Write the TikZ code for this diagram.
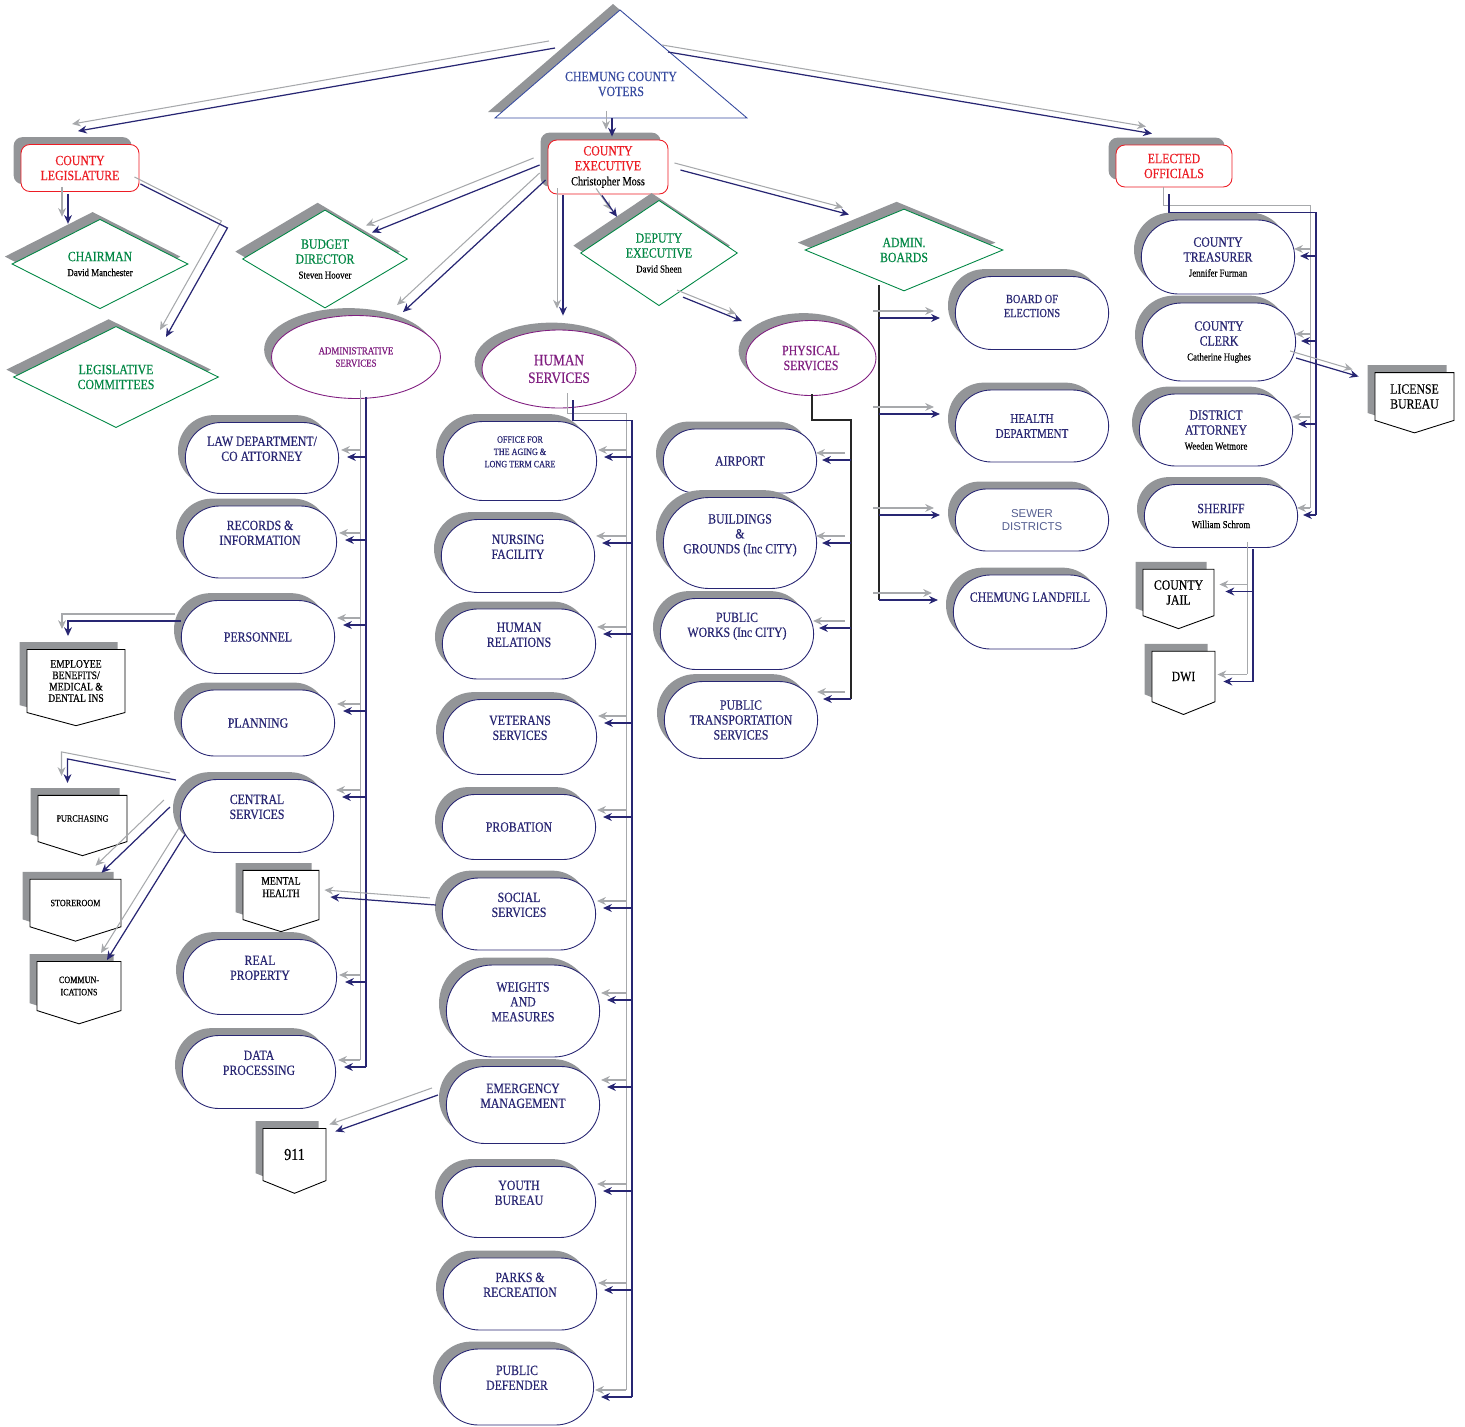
\documentclass[tikz,border=0pt]{standalone}
\usepackage{fontspec}
\setmainfont{Liberation Serif}[FakeStretch=0.84, FakeBold=0.4]
\newfontfamily\sewerfont{Liberation Sans}
\usetikzlibrary{shapes.geometric,shapes.misc,shapes.symbols,shadows,calc,arrows.meta}

\definecolor{onavy}{RGB}{40,38,115}
\definecolor{ored}{RGB}{237,28,36}
\definecolor{ogreen}{RGB}{0,135,68}
\definecolor{opurple}{RGB}{128,30,128}
\definecolor{oblue}{RGB}{55,75,160}
\definecolor{shadegray}{RGB}{147,149,152}
\definecolor{linegray}{RGB}{167,169,172}
\definecolor{sewerblue}{RGB}{85,95,145}

% font size helper and person names
\newcommand{\fsz}[2]{\fontsize{#1}{#2}\selectfont}
\newcommand{\who}[1]{{\color{black}\fsz{6}{6.5}#1}}
% every link is drawn twice: grey copy up-left, navy on top
\newcommand{\twin}[2][]{%
  \draw[greyline,#1] #2;
  \draw[navyline,#1] #2;}

\begin{document}
\begin{tikzpicture}[x=0.02cm, y=-0.02cm,
  dropshade/.style={copy shadow={shadow xshift=-4.2pt, shadow yshift=4.2pt, fill=shadegray, draw=none}},
  topbox/.style={dropshade, rectangle, rounded corners=5pt, draw=ored, fill=white, text=ored,
    align=center, line width=0.5pt, font=\fsz{8}{8.5}, minimum width=2.36cm, minimum height=0.94cm},
  lead/.style={dropshade, diamond, draw=ogreen, fill=white, text=ogreen, align=center,
    inner sep=0pt, line width=0.5pt, font=\fsz{8}{8.5}},
  division/.style={dropshade, ellipse, draw=opurple, fill=white, text=opurple, align=center,
    line width=0.5pt, font=\fsz{8}{8.5}},
  dept/.style={dropshade, rounded rectangle, draw=onavy, fill=white, text=onavy, align=center,
    line width=0.5pt, font=\fsz{8}{8.5}, minimum width=3.3cm, minimum height=1.46cm},
  upper/.style={text depth=10.5pt},
  office/.style={dropshade, signal, signal to=south, signal pointer angle=145, draw=black,
    fill=white, align=center, line width=0.5pt, inner sep=1pt, font=\fsz{8}{8.5}},
  greyline/.style={draw=linegray, line width=0.6pt, -{Stealth[length=5pt,width=4.5pt]},
    transform canvas={shift={(-3.4pt,4pt)}}},
  navyline/.style={draw=onavy, line width=0.7pt, -{Stealth[length=5pt,width=4.5pt]}},
  trunkline/.style={draw=black!85, line width=0.7pt}]
\useasboundingbox (0,0) rectangle (1465,1427);

% voters
\fill[shadegray] (613,4) -- (488,112) -- (740,112) -- cycle;
\draw[oblue, fill=white, line width=0.5pt] (620,10) -- (495,118) -- (747,118) -- cycle;
\node[text=oblue, align=center, font=\fsz{8}{8.5}] (voters) at (621,84) {CHEMUNG COUNTY\\VOTERS};
\coordinate (vL) at (555,48);
\coordinate (vR) at (668,52);
\coordinate (vB) at (612,118);

% top level
\node[topbox] (leg) at (80,168) {COUNTY\\LEGISLATURE};
\node[topbox, minimum width=2.4cm, minimum height=1.08cm] (exec) at (608,167)
  {COUNTY\\EXECUTIVE\\{\color{black}\fsz{7}{7.5}Christopher Moss}};
\node[topbox, minimum width=2.32cm, minimum height=0.84cm] (elected) at (1174,166) {ELECTED\\OFFICIALS};

% diamonds
\node[lead, minimum width=3.52cm, minimum height=1.66cm] (chair) at (100,264) {CHAIRMAN\\\who{David Manchester}};
\node[lead, minimum width=4.1cm, minimum height=2cm] (lcom) at (116,377) {LEGISLATIVE\\COMMITTEES};
\node[lead, minimum width=3.3cm, minimum height=1.88cm] (budget) at (325,259) {BUDGET\\DIRECTOR\\\who{Steven Hoover}};
\node[lead, minimum width=3.14cm, minimum height=1.92cm] (dep) at (659,253) {DEPUTY\\EXECUTIVE\\\who{David Sheen}};
\node[lead, minimum width=3.96cm, minimum height=1.64cm] (boards) at (904,250) {ADMIN.\\BOARDS};

% divisions
\node[division, minimum width=3.38cm, minimum height=1.66cm, font=\fsz{6}{7}] (adm) at (356,357) {ADMINISTRATIVE\\SERVICES};
\node[division, minimum width=3.08cm, minimum height=1.56cm, font=\fsz{9}{10}] (hum) at (559,369) {HUMAN\\SERVICES};
\node[division, minimum width=2.6cm, minimum height=1.5cm] (phys) at (811,358) {PHYSICAL\\SERVICES};

% administrative services
\node[dept, upper, minimum height=1.42cm] (law) at (262,458) {LAW DEPARTMENT/\\CO ATTORNEY};
\node[dept, upper, minimum height=1.44cm] (rec) at (260,542) {RECORDS \&\\INFORMATION};
\node[dept] (pers) at (258,637) {PERSONNEL};
\node[dept, minimum height=1.32cm] (plan) at (258,723) {PLANNING};
\node[dept, upper] (cent) at (257,816) {CENTRAL\\SERVICES};
\node[dept, upper, minimum height=1.5cm] (real) at (260,977) {REAL\\PROPERTY};
\node[dept, upper] (data) at (259,1072) {DATA\\PROCESSING};

% human services
\node[dept, upper, minimum height=1.58cm, font=\fsz{5.5}{7}] (aging) at (520,461) {OFFICE FOR\\THE AGING \&\\LONG TERM CARE};
\node[dept, upper] (nurs) at (518,556) {NURSING\\FACILITY};
\node[dept, upper, minimum height=1.4cm] (hrel) at (519,644) {HUMAN\\RELATIONS};
\node[dept, upper, minimum height=1.5cm] (vet) at (520,737) {VETERANS\\SERVICES};
\node[dept, minimum height=1.3cm] (prob) at (519,827) {PROBATION};
\node[dept, upper, minimum height=1.44cm] (soc) at (519,914) {SOCIAL\\SERVICES};
\node[dept, upper, minimum height=1.84cm] (wm) at (523,1011) {WEIGHTS\\AND\\MEASURES};
\node[dept, upper, minimum height=1.54cm] (emer) at (523,1105) {EMERGENCY\\MANAGEMENT};
\node[dept, upper, minimum height=1.42cm] (youth) at (519,1202) {YOUTH\\BUREAU};
\node[dept, upper, minimum height=1.44cm] (parks) at (520,1294) {PARKS \&\\RECREATION};
\node[dept, upper, minimum height=1.52cm] (pd) at (517,1387) {PUBLIC\\DEFENDER};

% physical services
\node[dept, minimum height=1.28cm] (air) at (740,461) {AIRPORT};
\node[dept, upper, minimum height=1.82cm] (bldg) at (740,543) {BUILDINGS\\\&\\GROUNDS (Inc CITY)};
\node[dept, upper, minimum height=1.42cm] (works) at (737,634) {PUBLIC\\WORKS (Inc CITY)};
\node[dept, minimum height=1.54cm] (trans) at (741,720) {PUBLIC\\TRANSPORTATION\\SERVICES};

% admin boards
\node[dept, font=\fsz{7}{8}] (elect) at (1032,313) {BOARD OF\\ELECTIONS\\~};
\node[dept, minimum height=1.44cm, font=\fsz{7.5}{8.5}] (health) at (1032,426) {HEALTH\\DEPARTMENT};
\node[dept, minimum height=1.24cm, text=sewerblue, font=\sewerfont\fsz{6.5}{7}] (sewer) at (1032,520) {SEWER\\DISTRICTS};
\node[dept, minimum height=1.48cm] (landfill) at (1030,612) {CHEMUNG LANDFILL\\~\\~};

% elected officials
\node[dept, minimum height=1.48cm] (treas) at (1218,257) {COUNTY\\TREASURER\\\who{Jennifer Furman}};
\node[dept, minimum height=1.56cm] (clerk) at (1219,342) {COUNTY\\CLERK\\\who{Catherine Hughes}};
\node[dept, minimum height=1.44cm] (da) at (1216,430) {DISTRICT\\ATTORNEY\\\who{Weeden Wetmore}};
\node[dept, minimum height=1.26cm] (sher) at (1221,516) {SHERIFF\\\who{William Schrom}};

% offices
\node[office, minimum width=1.58cm, minimum height=1.12cm] (lic) at (1414.5,396.5) {LICENSE\\BUREAU};
\node[office, minimum width=1.96cm, minimum height=1.42cm, signal pointer angle=150, font=\fsz{6.5}{6.5}] (ben) at (76,681) {EMPLOYEE\\BENEFITS/\\MEDICAL \&\\DENTAL INS};
\node[office, minimum width=1.78cm, minimum height=1.1cm, font=\fsz{5.5}{6.5}] (pur) at (82.5,818.5) {PURCHASING};
\node[office, minimum width=1.82cm, minimum height=1.12cm, font=\fsz{5.5}{6.5}] (store) at (75.5,903) {STOREROOM};
\node[office, minimum width=1.68cm, minimum height=1.12cm, font=\fsz{5.5}{7}] (comm) at (79,986) {COMMUN-\\ICATIONS};
\node[office, minimum width=1.52cm, minimum height=1.12cm, font=\fsz{6.5}{7}] (mh) at (281,895) {MENTAL\\HEALTH\\[2pt]~};
\node[office, minimum width=1.26cm, minimum height=1.14cm, signal pointer angle=136, font=\fsz{9.5}{10}] (n911) at (294.5,1154.5) {911};
\node[office, minimum width=1.42cm, minimum height=1.12cm, signal pointer angle=140] (jail) at (1178.5,592.5) {COUNTY\\JAIL};
\node[office, minimum width=1.26cm, minimum height=1.12cm, signal pointer angle=136] (dwi) at (1183.5,676.5) {DWI};

% links from voters and the county executive
\twin{(vL) -- ($(leg.north)+(-2,-13)$)}
\twin{(vR) -- ($(elected.north)+(-22,-11)$)}
\twin{(vB) -- ($(vB |- exec.north)+(0,-3)$)}
\twin{($(leg.south)+(-12,2)$) -- ($(chair.north)+(-32,5)$)}
\twin{($(leg.east)+(1,16)$) -- ($(leg.east)+(88,60)$) -- ($(lcom.north)+(50,11)$)}
\twin{($(exec.west)+(-8,-2)$) -- ($(budget.north)+(47,23)$)}
\twin{($(exec.west)+(-2,13)$) -- ($(adm.north)+(47,-3)$)}
\twin{($(exec.south)+(-45,1)$) -- ($(hum.north)+(4,-14)$)}
\twin{($(exec.south)+(-6,1)$) -- ($(dep.north)+(-42,17)$)}
\twin{($(exec.east)+(12,3)$) -- ($(boards.north)+(-55,6)$)}
\twin{($(dep.south)+(24,-9)$) -- ($(phys.north)+(-69,1)$)}

% administrative services branches
\coordinate (atop) at ($(adm.south)+(10,-2)$);
\coordinate (aend) at ($(data.east)+(8,-5)$);
\twin[-]{(atop) -- (atop |- aend)}
\foreach \d/\dy in {law/-1, rec/-2, pers/-12, plan/-12, cent/-19, real/5, data/-5}{
  \coordinate (t) at ($(\d.east)+(8,\dy)$);
  \twin{(atop |- t) -- (t)}
}

% human services branches
\coordinate (htop) at ($(hum.south)+(14,-8)$);
\coordinate (hbus) at ($(hum.south)+(73,12)$);
\coordinate (hend) at ($(pd.east)+(7,10)$);
\twin[-]{(htop) |- (hbus) -- (hbus |- hend)}
\foreach \d/\dy in {aging/-4, nurs/-13, hrel/-10, vet/-14, prob/-10, soc/-6, wm/-11, emer/-18, youth/-11, parks/-4, pd/10}{
  \coordinate (t) at ($(\d.east)+(7,\dy)$);
  \twin{(hbus |- t) -- (t)}
}

% physical services branches
\coordinate (pbus) at ($(phys.south)+(40,24)$);
\coordinate (pend) at ($(trans.east)+(5,-21)$);
\draw[trunkline] ($(phys.south)+(1,-2)$) |- (pbus) -- (pbus |- pend);
\foreach \d/\dy in {air/-1, bldg/0, works/-6, trans/-21}{
  \coordinate (t) at ($(\d.east)+(5,\dy)$);
  \twin{(pbus |- t) -- (t)}
}

% admin boards branches
\coordinate (btop) at ($(boards.south)+(-25,-6)$);
\coordinate (bend) at ($(landfill.west)+(-15,-12)$);
\draw[trunkline] (btop) -- (btop |- bend);
\foreach \d/\dy in {elect/5, health/-12, sewer/-5, landfill/-12}{
  \coordinate (t) at ($(\d.west)+(-15,\dy)$);
  \twin{(btop |- t) -- (t)}
}

% elected officials branches
\coordinate (etop) at ($(elected.south)+(-5,7)$);
\coordinate (ebus) at ($(elected.south)+(142,25)$);
\coordinate (eend) at ($(sher.east)+(5,-1)$);
\twin[-]{(etop) |- (ebus) -- (ebus |- eend)}
\foreach \d/\dy in {treas/-1, clerk/-1, da/-6, sher/-1}{
  \coordinate (t) at ($(\d.east)+(5,\dy)$);
  \twin{(ebus |- t) -- (t)}
}
\twin{($(clerk.east)+(0,16)$) -- ($(lic.west)+(-16,-20)$)}

% sheriff to jail and dwi
\coordinate (stop) at ($(sher.south)+(32,1)$);
\coordinate (send) at ($(dwi.east)+(8,5)$);
\twin[-]{(stop) -- (stop |- send)}
\coordinate (jtip) at ($(jail.east)+(11,-1)$);
\twin{(stop |- jtip) -- (jtip)}
\twin{(stop |- send) -- (send)}

% side offices
\twin{($(pers.west)+(0,-16)$) -| ($(ben.north)+(-8,-13)$)}
\twin{($(cent.west)+(-4,-36)$) -- ($(pur.north)+(-15,-36)$) -- ($(pur.north)+(-15,-12)$)}
\twin{($(cent.west)+(-10,-9)$) -- ($(store.north)+(26,-6)$)}
\twin{($(cent.west)+(5,19)$) -- ($(comm.north)+(28,-1)$)}
\twin{($(soc.west)+(-6,-9)$) -- ($(mh.east)+(11,2)$)}
\twin{($(emer.west)+(-8,-10)$) -- ($(n911.east)+(9,-23)$)}
\end{tikzpicture}
\end{document}
